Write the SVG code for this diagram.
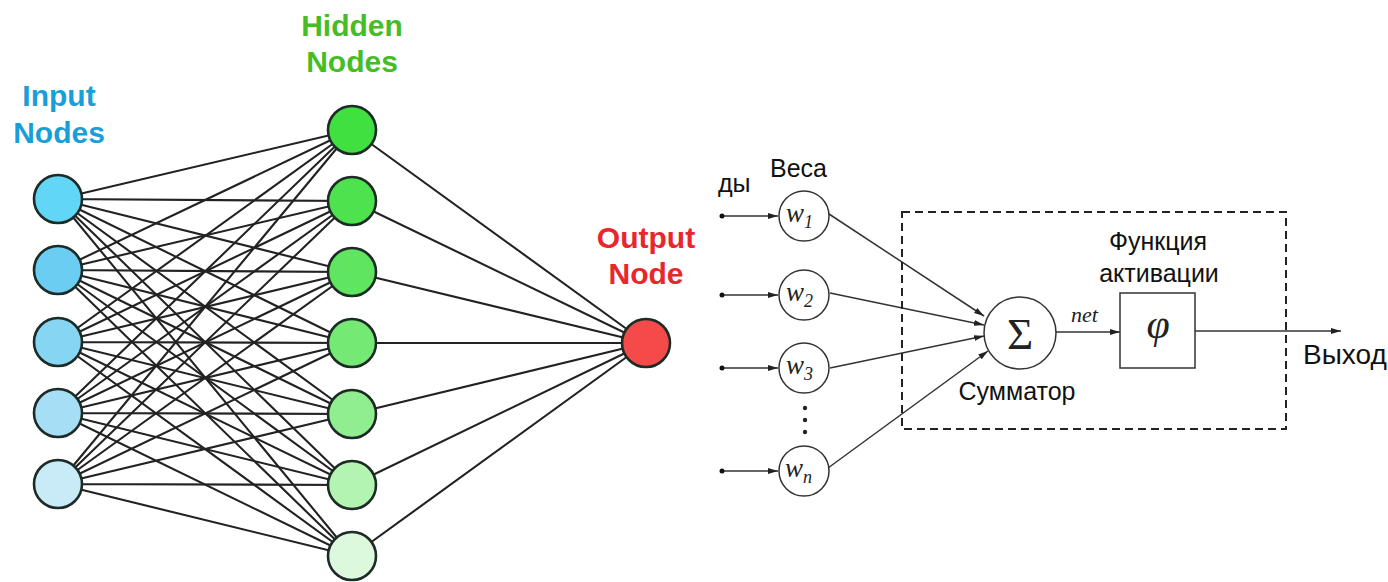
<svg xmlns="http://www.w3.org/2000/svg" width="1388" height="582" viewBox="0 0 1388 582">
  <style>
    .title { font-family: "Liberation Sans", Arial, sans-serif; font-weight: bold; font-size: 30px; text-anchor: middle; }
    .edge { stroke: #222; stroke-width: 2.1; fill: none; }
    .nn { stroke: #1d2b26; stroke-width: 2.6; }
    .wire { stroke: #333; stroke-width: 1.5; fill: none; }
    .ru { font-family: "Liberation Sans", Arial, sans-serif; font-size: 25px; fill: #111; }
    .ru.big { font-size: 28px; }
    .math { font-family: "Liberation Serif", "Times New Roman", serif; font-style: italic; fill: #222; }
    .unit { fill: #fff; stroke: #333; stroke-width: 1.5; }
  </style>
  <defs>
    <marker id="arrow" viewBox="0 0 10 6" refX="10" refY="3" markerWidth="10" markerHeight="6" markerUnits="userSpaceOnUse" orient="auto">
      <path d="M0,0 L10,3 L0,6 Z" fill="#222"/>
    </marker>
  </defs>
  <rect width="1388" height="582" fill="#fff"/>

  <!-- layer titles -->
  <g id="title-input"><text class="title" x="59" y="106" fill="#1a9ed8">Input</text><text class="title" x="59" y="143" fill="#1a9ed8">Nodes</text></g>
  <g id="title-hidden"><text class="title" x="352" y="36" fill="#45bd24">Hidden</text><text class="title" x="352" y="72" fill="#45bd24">Nodes</text></g>
  <g id="title-output"><text class="title" x="646" y="248" fill="#e8262b">Output</text><text class="title" x="646" y="284" fill="#e8262b">Node</text></g>

  <!-- fully connected edges -->
  <g id="connectors-net" class="edge">
    <path d="M58,199L352,130M58,199L352,201M58,199L352,272M58,199L352,343M58,199L352,414M58,199L352,485M58,199L352,556"/>
    <path d="M58,270L352,130M58,270L352,201M58,270L352,272M58,270L352,343M58,270L352,414M58,270L352,485M58,270L352,556"/>
    <path d="M58,342L352,130M58,342L352,201M58,342L352,272M58,342L352,343M58,342L352,414M58,342L352,485M58,342L352,556"/>
    <path d="M58,413L352,130M58,413L352,201M58,413L352,272M58,413L352,343M58,413L352,414M58,413L352,485M58,413L352,556"/>
    <path d="M58,484L352,130M58,484L352,201M58,484L352,272M58,484L352,343M58,484L352,414M58,484L352,485M58,484L352,556"/>
    <!-- hidden to output -->
    <path d="M352,130L646,343M352,201L646,343M352,272L646,343M352,343L646,343M352,414L646,343M352,485L646,343M352,556L646,343"/>
  </g>

  <g id="input-1"><circle class="nn" cx="58" cy="199" r="24" fill="#62d6f6"/></g>
  <g id="input-2"><circle class="nn" cx="58" cy="270" r="24" fill="#6bcdf2"/></g>
  <g id="input-3"><circle class="nn" cx="58" cy="342" r="24" fill="#86d5f3"/></g>
  <g id="input-4"><circle class="nn" cx="58" cy="413" r="24" fill="#a6dff5"/></g>
  <g id="input-5"><circle class="nn" cx="58" cy="484" r="24" fill="#c9ebf8"/></g>

  <g id="hidden-1"><circle class="nn" cx="352" cy="130" r="24" fill="#3fe03f"/></g>
  <g id="hidden-2"><circle class="nn" cx="352" cy="201" r="24" fill="#4fe24f"/></g>
  <g id="hidden-3"><circle class="nn" cx="352" cy="272" r="24" fill="#5fe55f"/></g>
  <g id="hidden-4"><circle class="nn" cx="352" cy="343" r="24" fill="#74ea74"/></g>
  <g id="hidden-5"><circle class="nn" cx="352" cy="414" r="24" fill="#90ee90"/></g>
  <g id="hidden-6"><circle class="nn" cx="352" cy="485" r="24" fill="#b3f4b3"/></g>
  <g id="hidden-7"><circle class="nn" cx="352" cy="556" r="24" fill="#ddf9dd"/></g>

  <g id="output-node"><circle class="nn" cx="646" cy="343" r="24" fill="#f44a4a"/></g>

  <!-- perceptron -->
  <g id="label-inputs"><text class="ru" x="718" y="192">ды</text></g>
  <g id="label-weights"><text class="ru" x="770" y="177">Веса</text></g>

  <g id="connectors-perceptron">
    <g class="wire">
      <path d="M722,216H778" marker-end="url(#arrow)"/>
      <path d="M722,295H778" marker-end="url(#arrow)"/>
      <path d="M722,368H778" marker-end="url(#arrow)"/>
      <path d="M722,471H778" marker-end="url(#arrow)"/>
      <path d="M829,214L984,316" marker-end="url(#arrow)"/>
      <path d="M830,293L984,325" marker-end="url(#arrow)"/>
      <path d="M830,368L984,336" marker-end="url(#arrow)"/>
      <path d="M828,468L988,351" marker-end="url(#arrow)"/>
      <path d="M1056,332H1120" marker-end="url(#arrow)"/>
      <path d="M1195,331H1341" marker-end="url(#arrow)"/>
    </g>
    <g fill="#111">
      <circle cx="722" cy="216" r="2.5"/><circle cx="722" cy="295" r="2.5"/>
      <circle cx="722" cy="368" r="2.5"/><circle cx="722" cy="471" r="2.5"/>
    </g>
  </g>

  <g id="weight-1"><circle class="unit" cx="804" cy="216" r="25"/><text class="math" x="786" y="222" font-size="27">w<tspan font-size="18" dy="6">1</tspan></text></g>
  <g id="weight-2"><circle class="unit" cx="804" cy="295" r="25"/><text class="math" x="786" y="301" font-size="27">w<tspan font-size="18" dy="6">2</tspan></text></g>
  <g id="weight-3"><circle class="unit" cx="804" cy="368" r="25"/><text class="math" x="786" y="374" font-size="27">w<tspan font-size="18" dy="6">3</tspan></text></g>
  <g id="weight-dots" fill="#222"><circle cx="805" cy="408" r="2.2"/><circle cx="805" cy="420" r="2.2"/><circle cx="805" cy="432" r="2.2"/></g>
  <g id="weight-n"><circle class="unit" cx="804" cy="471" r="25"/><text class="math" x="785" y="477" font-size="27">w<tspan font-size="18" dy="6">n</tspan></text></g>

  <g id="neuron-box"><rect x="902" y="212" width="384" height="217" fill="none" stroke="#222" stroke-width="2" stroke-dasharray="8,5"/></g>

  <g id="summator">
    <circle class="unit" cx="1020" cy="333" r="36"/>
    <text x="1020" y="349" font-family="'Liberation Serif', serif" font-size="45" text-anchor="middle" fill="#222">Σ</text>
    <text class="ru" x="1017" y="400" text-anchor="middle">Сумматор</text>
  </g>
  <text class="math" x="1071" y="322" font-size="22">net</text>

  <g id="activation">
    <rect class="unit" x="1120" y="293" width="75" height="75"/>
    <text class="math" x="1158" y="338" font-size="42" text-anchor="middle">φ</text>
    <text class="ru" x="1158" y="250" text-anchor="middle">Функция</text>
    <text class="ru" x="1159" y="282" text-anchor="middle">активации</text>
  </g>

  <g id="label-output"><text class="ru big" x="1303" y="364">Выход</text></g>
</svg>
